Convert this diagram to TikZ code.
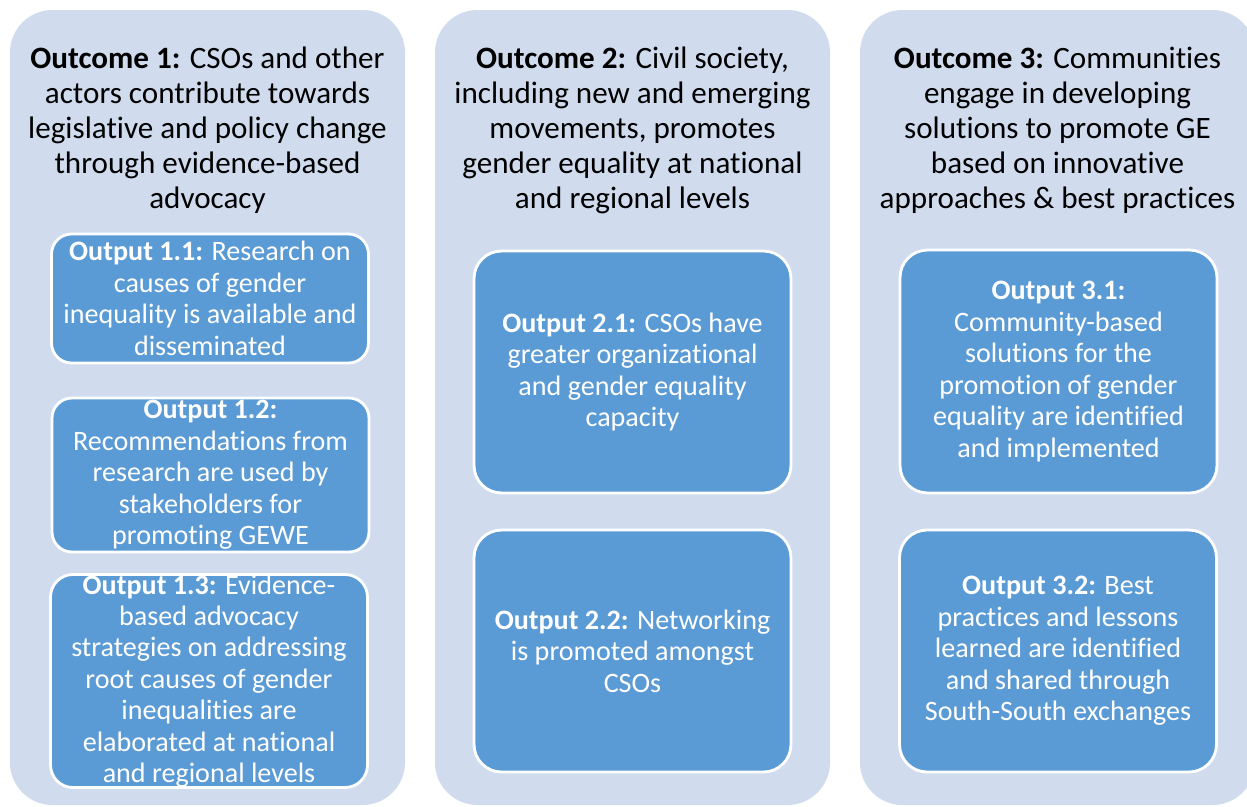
\documentclass[tikz,border=0pt]{standalone}
\usepackage{fontspec}
\setmainfont{Carlito}[Ligatures=NoCommon]
\usepackage{xcolor}
\usetikzlibrary{positioning}
\definecolor{panelblue}{HTML}{D0DCEE}
\definecolor{boxblue}{HTML}{5B9BD5}

\begin{document}
\begin{tikzpicture}[x=0.02cm,y=-0.02cm,
  outcome/.style={align=center,text=black,inner sep=0pt,font=\fontsize{17.7}{19.9}\selectfont},
  output/.style={draw=white,line width=1.6pt,fill=boxblue,text=white,align=center,inner sep=0pt,
    font=\fontsize{16}{17.9}\selectfont,minimum width=6.34cm}]
\clip (0,0) rectangle (1247,806);
\fill[white] (0,0) rectangle (1247,806);
% the three outcome columns
\fill[panelblue,rounded corners=0.85cm] (10,10) rectangle (405,805);
\fill[panelblue,rounded corners=0.85cm] (435,10) rectangle (830,805);
\fill[panelblue,rounded corners=0.85cm] (860,10) rectangle (1255,805);
% outcome headings
\node[outcome] (oc1) at (207.5,130) {\textbf{Outcome 1:} CSOs and other\\actors contribute towards\\legislative and policy change\\through evidence-based\\advocacy};
\node[outcome] (oc2) at (632.5,130) {\textbf{Outcome 2:} Civil society,\\including new and emerging\\movements, promotes\\gender equality at national\\and regional levels};
\node[outcome] (oc3) at (1057.5,130) {\textbf{Outcome 3:} Communities\\engage in developing\\solutions to promote GE\\based on innovative\\approaches \& best practices};
% outputs, column 1
\node[output,rounded corners=0.4cm,minimum height=2.58cm] (op11) at (210,298.5) {\textbf{Output 1.1:} Research on\\causes of gender\\inequality is available and\\disseminated};
\node[output,rounded corners=0.4cm,minimum height=3.08cm] (op12) at (210.5,475) {\textbf{Output 1.2:}\\Recommendations from\\research are used by\\stakeholders for\\promoting GEWE};
\node[output,rounded corners=0.45cm,minimum height=4.24cm] (op13) at (209,681) {\textbf{Output 1.3:} Evidence-\\based advocacy\\strategies on addressing\\root causes of gender\\inequalities are\\elaborated at national\\and regional levels};
% outputs, column 2
\node[output,rounded corners=0.55cm,minimum height=4.84cm] (op21) at (632.5,372) {\textbf{Output 2.1:} CSOs have\\greater organizational\\and gender equality\\capacity};
\node[output,rounded corners=0.55cm,minimum height=4.84cm] (op22) at (632.5,651) {\textbf{Output 2.2:} Networking\\is promoted amongst\\CSOs};
% outputs, column 3
\node[output,rounded corners=0.55cm,minimum height=4.86cm] (op31) at (1058.5,371.5) {\textbf{Output 3.1:}\\Community-based\\solutions for the\\promotion of gender\\equality are identified\\and implemented};
\node[output,rounded corners=0.55cm,minimum height=4.84cm] (op32) at (1058,651) {\textbf{Output 3.2:} Best\\practices and lessons\\learned are identified\\and shared through\\South-South exchanges};
\end{tikzpicture}
\end{document}
